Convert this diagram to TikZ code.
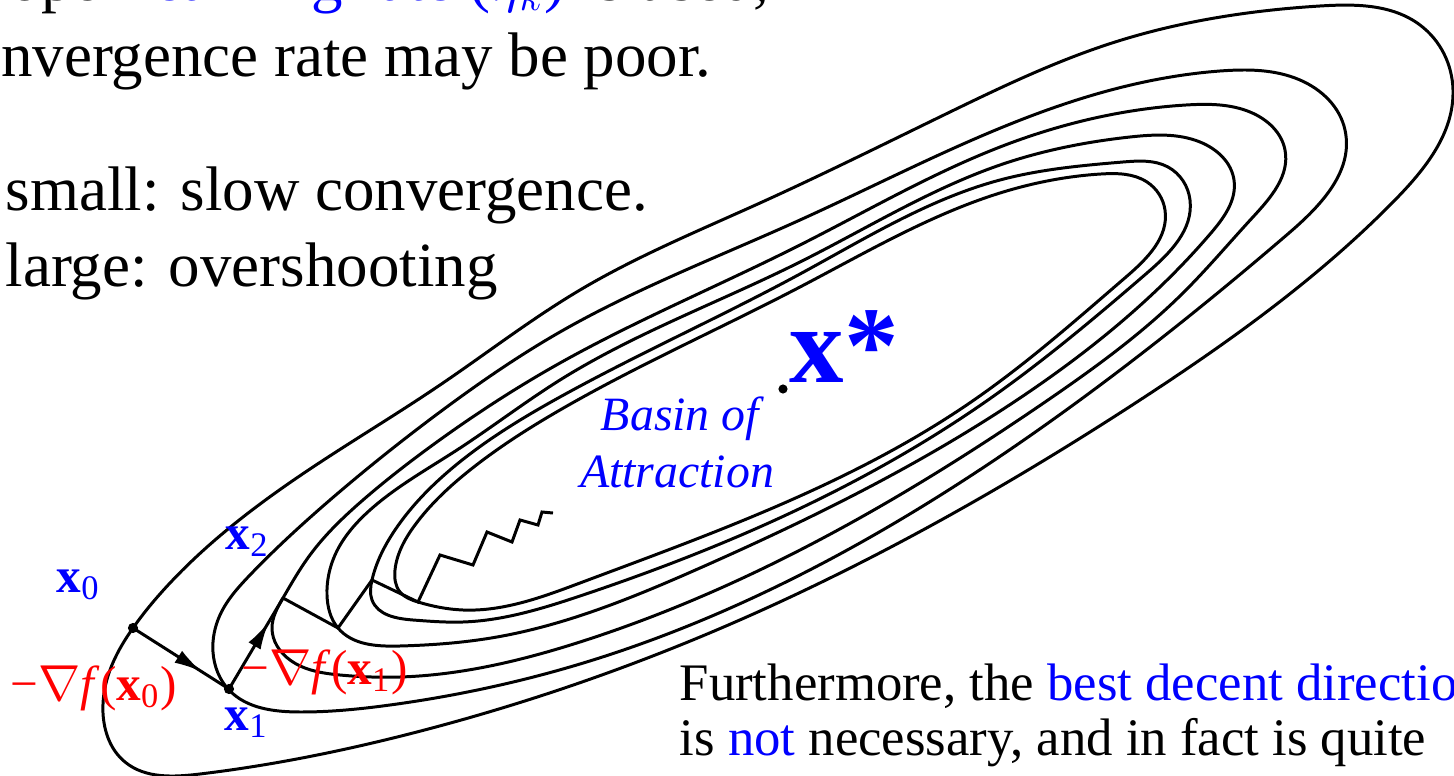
\documentclass[tikz,border=0pt]{standalone}
\usepackage{fontspec}
\setmainfont{Liberation Serif}
\usepackage{xcolor}
\usetikzlibrary{arrows.meta, decorations.markings, hobby}
\tikzset{
    contour/.style={line width=0.85pt, black},
    stepline/.style={line width=0.85pt, black, line join=miter},
    midarrow/.style={postaction={decorate, decoration={markings,
        mark=at position #1 with {\arrow{Latex[length=8pt, width=4pt]}}}}},
    iterdot/.style={circle, fill=black, inner sep=0pt, minimum size=2.9pt},
    slidetext/.style={anchor=base west, inner sep=0pt,
                      font=\fontsize{17.9}{21.5}\selectfont},
    notetext/.style={anchor=base west, inner sep=0pt,
                     font=\fontsize{15}{18}\selectfont},
}
\newcommand{\bvec}[1]{\textbf{x}\textsubscript{#1}}

\begin{document}
\begin{tikzpicture}[
    x=0.01cm, y=-0.01cm,
    ptlabel/.style={anchor=base west, inner sep=0pt, blue,
                    font=\fontsize{14}{16}\selectfont},
    gradlabel/.style={ptlabel, red},
    basinlabel/.style={anchor=base, inner sep=0pt, blue,
                       font=\fontsize{13.6}{16}\selectfont\itshape},
]
\useasboundingbox (0,0) rectangle (1454,776);
\clip (0,0) rectangle (1454,776);

% --- slide text ---
\node[slidetext] (t-top) at (-110,1)
    {improper \textcolor{blue}{learning rate ($\eta_k$)} is used,};
\node[slidetext] (t-poor) at (-59,77) {convergence rate may be poor.};
\node[slidetext] (t-small) at (5,211) {small: slow convergence.};
\node[slidetext] (t-large) at (5,287) {large: overshooting};
\node[notetext] (t-further) at (679,700)
    {Furthermore, the \textcolor{blue}{best decent direction}};
\node[notetext] (t-quite) at (679,755)
    {is \textcolor{blue}{not} necessary, and in fact is quite};

% --- contours, outer to inner ---
\draw[contour] plot[closed hobby] coordinates {
    (103,713) (125,762) (200,774) (413,733) (700,637) (1140,400)
    (1395,200) (1453,90) (1420,25) (1320,6) (1112,43) (950,112)
    (760,203) (580,290) (440,385) (313,467) (170,583) (133,628)
    (110,670)};
\draw[contour] plot[closed hobby] coordinates {
    (213,652) (229,690) (300,712) (390,705) (580,664) (1080,400)
    (1289,233) (1345,130) (1300,80) (1220,71) (1100,93) (800,220)
    (560,332) (440,412) (330,500) (250,575) (220,615)};
\draw[contour] plot[closed hobby] coordinates {
    (283,598) (272,628) (290,660) (340,675) (400,677) (580,642)
    (1048,400) (1183,293) (1253,217) (1285,150) (1250,112) (1186,105)
    (1000,147) (800,245) (560,363) (430,447) (363,500) (310,555)};
\draw[contour] plot[closed hobby] coordinates {
    (338,628) (400,646) (497,637) (700,568) (1017,400) (1211,233)
    (1234,180) (1200,142) (1130,137) (1000,165) (800,262) (560,380)
    (457,450) (370,510) (335,555) (327,595)};
\draw[contour] plot[closed hobby] coordinates {
    (372,580) (372,600) (413,620) (463,622) (580,596) (988,400)
    (1147,273) (1190,200) (1168,167) (1123,162) (1000,180) (800,274)
    (560,397) (450,470) (395,530)};
\draw[contour] plot[closed hobby] coordinates {
    (418,602) (463,610) (580,583) (974,400) (1126,277) (1165,210)
    (1147,182) (1101,174) (1000,193) (800,287) (560,410) (470,470)
    (415,525) (395,570) (400,592)};

% --- descent path ---
\coordinate (p0) at (133,628);
\coordinate (p1) at (229,689);
\coordinate (p2) at (283,598);
\coordinate (p3) at (338,628);
\coordinate (p4) at (372,580);
\coordinate (p5) at (418,602);
\coordinate (p6) at (440,555);
\coordinate (p7) at (473,565);
\coordinate (p8) at (487,532);
\coordinate (p9) at (512,542);
\coordinate (p10) at (520,520);
\coordinate (p11) at (538,525);
\coordinate (p12) at (542,512);
\coordinate (p13) at (553,513);
\draw[stepline, midarrow=0.72] (p0) -- (p1);
\draw[stepline, midarrow=0.74] (p1) -- (p2);
\draw[stepline] (p2) -- (p3) -- (p4) -- (p5) -- (p6) -- (p7) -- (p8)
    -- (p9) -- (p10) -- (p11) -- (p12) -- (p13);
\node[iterdot] (d0) at (p0) {};
\node[iterdot] (d1) at (p1) {};

% --- labels ---
\node[ptlabel] (l-x0) at (56,592) {\bvec{0}};
\node[ptlabel] (l-x1) at (224,730) {\bvec{1}};
\node[ptlabel] (l-x2) at (225,549) {\bvec{2}};
\node[gradlabel] (l-g0) at (10,700) {−$\nabla$\textit{f}(\bvec{0})};
\node[gradlabel] (l-g1) at (241,684) {−$\nabla$\textit{f}(\bvec{1})};

% --- minimum ---
\node[iterdot, minimum size=2.6pt] (d-star) at (783,389) {};
\node[anchor=base west, inner sep=0pt, blue,
      font=\fontsize{31}{36}\selectfont\bfseries] (l-star) at (789,383) {x*};
\node[basinlabel] (l-basin) at (680,430) {Basin of};
\node[basinlabel] (l-attr) at (677,487) {Attraction};
\end{tikzpicture}
\end{document}
